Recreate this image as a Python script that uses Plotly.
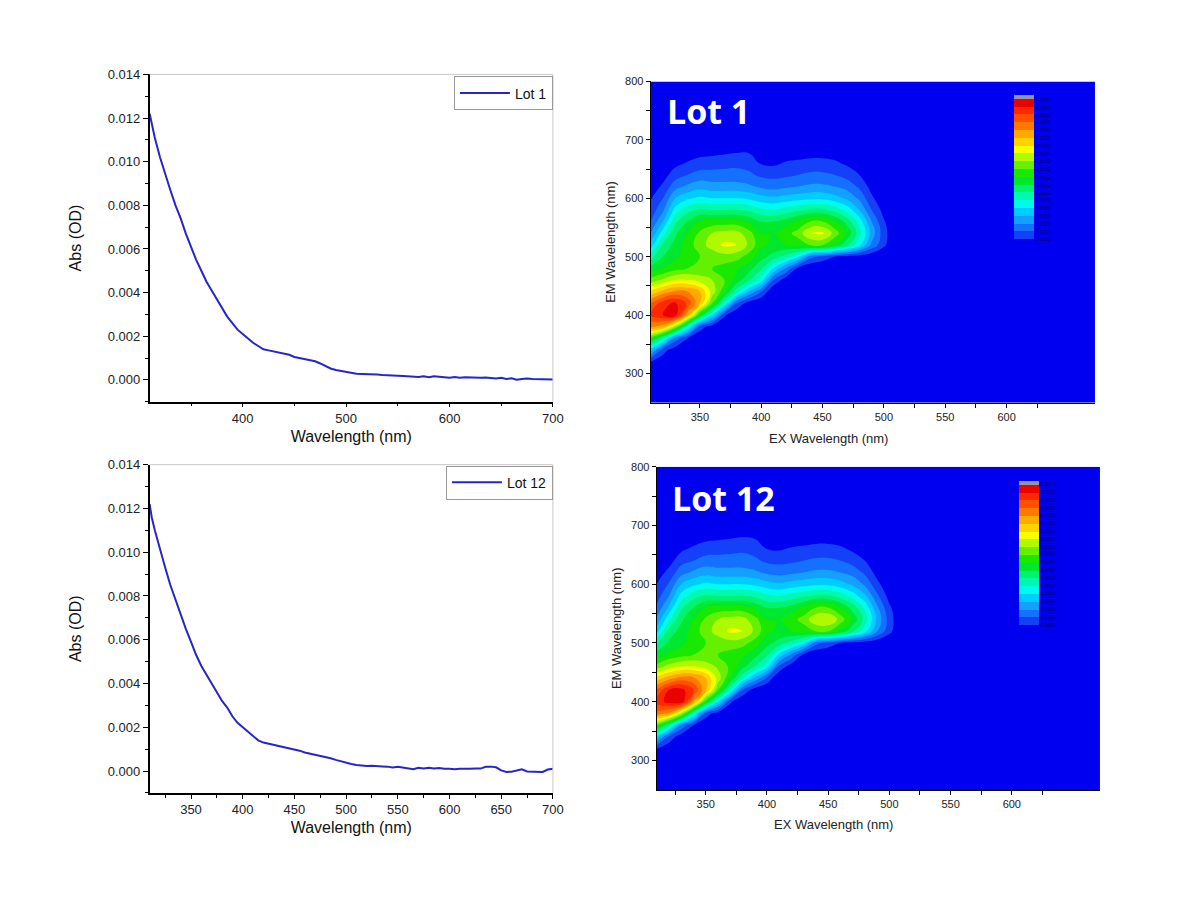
import numpy as np
import plotly.graph_objects as go

# ---------------- absorbance spectra ----------------
wl_lot1 = [310, 312, 315, 320, 325, 330, 335, 340, 345, 350, 355, 360, 365, 370, 375, 380, 385, 390, 395, 400,
           405, 410, 415, 420, 425, 430, 435, 440, 445, 450, 455, 460, 465, 470, 475, 480, 485, 490, 495, 500,
           505, 510, 515, 520, 525, 530, 535, 540, 545, 550, 555, 560, 565, 570, 575, 580, 585, 590, 595, 600,
           605, 610, 615, 620, 625, 630, 635, 640, 645, 650, 655, 660, 665, 670, 675, 680, 685, 690, 695, 700]
abs_lot1 = [0.0122, 0.0117, 0.0111, 0.0102, 0.0094, 0.0087, 0.0080, 0.0074, 0.0067, 0.0061, 0.0055, 0.0050,
            0.0045, 0.0041, 0.0037, 0.0033, 0.0029, 0.0026, 0.0023, 0.0021, 0.0019, 0.0017, 0.00155, 0.0014,
            0.00135, 0.0013, 0.00127, 0.0012, 0.00115, 0.00105, 0.0010, 0.00092, 0.0009, 0.00085, 0.00075,
            0.00062, 0.00052, 0.00045, 0.0004, 0.00035, 0.0003, 0.00028, 0.00027, 0.00027, 0.00025, 0.00024,
            0.00022, 0.00022, 0.0002, 0.00019, 0.00018, 0.00016, 0.00016, 0.00013, 0.00016, 0.00012, 0.00016,
            0.00014, 0.00009, 0.0001, 0.00013, 0.0001, 0.00012, 0.0001, 0.00011, 0.00009, 0.00011, 0.00007,
            0.00006, 0.00009, 0.00004, 0.00007, 0.0, 0.00004, 0.00006, 0.00004, 0.00003, 0.00004, 0.00002, 0.00002]

wl_lot12 = wl_lot1
abs_lot12 = [0.0122, 0.0116, 0.0110, 0.0101, 0.0093, 0.0085, 0.0078, 0.0071, 0.0065, 0.0059, 0.0053, 0.0048,
             0.0044, 0.0040, 0.0036, 0.0032, 0.0029, 0.0025, 0.0022, 0.0020, 0.0018, 0.0016, 0.0014, 0.0013,
             0.00125, 0.00118, 0.00112, 0.00108, 0.00102, 0.00098, 0.00093, 0.00085, 0.0008, 0.00074, 0.0007,
             0.00064, 0.00058, 0.00051, 0.00044, 0.00038, 0.00032, 0.00027, 0.00024, 0.00023, 0.00024, 0.00024,
             0.00021, 0.0002, 0.00016, 0.00019, 0.00015, 0.00013, 0.00008, 0.00015, 0.00011, 0.00015, 0.00012,
             0.00014, 0.0001, 0.0001, 0.00008, 0.0001, 0.00009, 0.0001, 0.00012, 0.00011, 0.00019, 0.0002,
             0.00017, 0.00003, -0.00004, -0.00003, 0.00002, 0.00008, -0.00002, -0.00003, -0.00004, -0.00004,
             0.00007, 0.0001]

# ---------------- EEM maps (normalised intensity) ----------------
ex_grid = [310, 320, 330, 340, 350, 360, 370, 380, 390, 400, 410, 420, 430, 440, 450, 460, 470, 480, 490,
           500, 510, 520, 680]
em_grid = [250, 300, 320, 340, 360, 380, 400, 420, 440, 460, 480, 500, 520, 540, 560, 580, 600, 620, 640,
           660, 680, 700, 800]

# one list per EX column, values along em_grid
eem_lot1_cols = [
    [0, 0, 0.05, 0.22, 0.48, 0.76, 0.85, 0.80, 0.66, 0.52, 0.42, 0.33, 0.22, 0.15, 0.10, 0.07, 0.045, 0.02, 0, 0, 0, 0, 0],
    [0, 0, 0.02, 0.07, 0.32, 0.72, 0.90, 0.88, 0.72, 0.56, 0.45, 0.40, 0.36, 0.28, 0.20, 0.14, 0.10, 0.06, 0.03, 0, 0, 0, 0],
    [0, 0, 0, 0.02, 0.13, 0.55, 0.93, 0.91, 0.76, 0.60, 0.48, 0.44, 0.42, 0.39, 0.34, 0.27, 0.20, 0.13, 0.075, 0.035, 0, 0, 0],
    [0, 0, 0, 0, 0.05, 0.30, 0.72, 0.84, 0.75, 0.60, 0.50, 0.47, 0.47, 0.45, 0.40, 0.33, 0.24, 0.16, 0.10, 0.055, 0.015, 0, 0],
    [0, 0, 0, 0, 0, 0.08, 0.45, 0.70, 0.70, 0.58, 0.50, 0.50, 0.53, 0.51, 0.45, 0.36, 0.26, 0.18, 0.12, 0.07, 0.03, 0, 0],
    [0, 0, 0, 0, 0, 0.02, 0.25, 0.50, 0.58, 0.55, 0.50, 0.52, 0.57, 0.55, 0.47, 0.35, 0.25, 0.17, 0.12, 0.075, 0.035, 0, 0],
    [0, 0, 0, 0, 0, 0, 0.06, 0.30, 0.46, 0.50, 0.48, 0.53, 0.61, 0.57, 0.47, 0.35, 0.25, 0.17, 0.12, 0.08, 0.04, 0, 0],
    [0, 0, 0, 0, 0, 0, 0, 0.10, 0.32, 0.43, 0.46, 0.52, 0.60, 0.57, 0.47, 0.35, 0.25, 0.17, 0.12, 0.085, 0.045, 0.005, 0],
    [0, 0, 0, 0, 0, 0, 0, 0.02, 0.20, 0.36, 0.42, 0.48, 0.54, 0.52, 0.44, 0.34, 0.24, 0.16, 0.11, 0.08, 0.045, 0.005, 0],
    [0, 0, 0, 0, 0, 0, 0, 0, 0.10, 0.28, 0.36, 0.42, 0.46, 0.45, 0.40, 0.31, 0.22, 0.14, 0.09, 0.045, 0.01, 0, 0],
    [0, 0, 0, 0, 0, 0, 0, 0, 0, 0.10, 0.25, 0.38, 0.44, 0.45, 0.40, 0.30, 0.21, 0.13, 0.085, 0.04, 0.01, 0, 0],
    [0, 0, 0, 0, 0, 0, 0, 0, 0, 0.02, 0.15, 0.33, 0.45, 0.48, 0.42, 0.32, 0.22, 0.14, 0.09, 0.055, 0.02, 0, 0],
    [0, 0, 0, 0, 0, 0, 0, 0, 0, 0, 0.04, 0.26, 0.47, 0.52, 0.46, 0.34, 0.23, 0.15, 0.10, 0.06, 0.025, 0, 0],
    [0, 0, 0, 0, 0, 0, 0, 0, 0, 0, 0, 0.12, 0.50, 0.60, 0.50, 0.36, 0.24, 0.16, 0.11, 0.065, 0.03, 0, 0],
    [0, 0, 0, 0, 0, 0, 0, 0, 0, 0, 0, 0.08, 0.50, 0.61, 0.50, 0.36, 0.24, 0.16, 0.11, 0.065, 0.03, 0, 0],
    [0, 0, 0, 0, 0, 0, 0, 0, 0, 0, 0, 0.05, 0.44, 0.53, 0.45, 0.33, 0.22, 0.15, 0.10, 0.06, 0.02, 0, 0],
    [0, 0, 0, 0, 0, 0, 0, 0, 0, 0, 0, 0.03, 0.36, 0.44, 0.38, 0.28, 0.19, 0.13, 0.08, 0.04, 0, 0, 0],
    [0, 0, 0, 0, 0, 0, 0, 0, 0, 0, 0, 0.02, 0.26, 0.32, 0.28, 0.20, 0.14, 0.09, 0.05, 0.02, 0, 0, 0],
    [0, 0, 0, 0, 0, 0, 0, 0, 0, 0, 0, 0.01, 0.14, 0.18, 0.15, 0.10, 0.06, 0.03, 0.01, 0, 0, 0, 0],
    [0, 0, 0, 0, 0, 0, 0, 0, 0, 0, 0, 0, 0.06, 0.07, 0.055, 0.03, 0.01, 0, 0, 0, 0, 0, 0],
    [0] * 23,
    [0] * 23,
    [0] * 23,
]

eem_lot12_cols = [
    [0, 0, 0.05, 0.23, 0.50, 0.78, 0.87, 0.81, 0.67, 0.52, 0.42, 0.34, 0.23, 0.16, 0.11, 0.075, 0.05, 0.025, 0, 0, 0, 0, 0],
    [0, 0, 0.02, 0.08, 0.34, 0.74, 0.92, 0.90, 0.73, 0.57, 0.46, 0.41, 0.37, 0.29, 0.21, 0.15, 0.105, 0.065, 0.03, 0, 0, 0, 0],
    [0, 0, 0, 0.02, 0.14, 0.57, 0.94, 0.92, 0.77, 0.60, 0.48, 0.44, 0.42, 0.39, 0.34, 0.27, 0.20, 0.13, 0.08, 0.04, 0, 0, 0],
    [0, 0, 0, 0, 0.05, 0.31, 0.74, 0.85, 0.76, 0.60, 0.50, 0.47, 0.47, 0.45, 0.40, 0.33, 0.24, 0.16, 0.10, 0.06, 0.02, 0, 0],
    [0, 0, 0, 0, 0, 0.08, 0.46, 0.71, 0.70, 0.58, 0.50, 0.50, 0.53, 0.51, 0.45, 0.36, 0.26, 0.18, 0.12, 0.075, 0.035, 0, 0],
    [0, 0, 0, 0, 0, 0.02, 0.25, 0.50, 0.58, 0.54, 0.50, 0.52, 0.57, 0.55, 0.47, 0.35, 0.25, 0.17, 0.12, 0.08, 0.04, 0, 0],
    [0, 0, 0, 0, 0, 0, 0.06, 0.30, 0.45, 0.49, 0.48, 0.53, 0.61, 0.57, 0.47, 0.35, 0.25, 0.17, 0.12, 0.085, 0.045, 0, 0],
    [0, 0, 0, 0, 0, 0, 0, 0.10, 0.31, 0.42, 0.46, 0.52, 0.60, 0.57, 0.47, 0.35, 0.25, 0.17, 0.12, 0.09, 0.05, 0.005, 0],
    [0, 0, 0, 0, 0, 0, 0, 0.02, 0.19, 0.35, 0.42, 0.48, 0.54, 0.52, 0.44, 0.34, 0.24, 0.16, 0.11, 0.08, 0.045, 0.005, 0],
    [0, 0, 0, 0, 0, 0, 0, 0, 0.09, 0.27, 0.36, 0.42, 0.46, 0.45, 0.40, 0.31, 0.22, 0.14, 0.09, 0.05, 0.015, 0, 0],
    [0, 0, 0, 0, 0, 0, 0, 0, 0, 0.09, 0.24, 0.38, 0.44, 0.45, 0.40, 0.30, 0.21, 0.13, 0.085, 0.045, 0.01, 0, 0],
    [0, 0, 0, 0, 0, 0, 0, 0, 0, 0.02, 0.14, 0.33, 0.45, 0.48, 0.42, 0.32, 0.22, 0.14, 0.09, 0.055, 0.02, 0, 0],
    [0, 0, 0, 0, 0, 0, 0, 0, 0, 0, 0.04, 0.26, 0.47, 0.52, 0.46, 0.34, 0.23, 0.15, 0.10, 0.06, 0.025, 0, 0],
    [0, 0, 0, 0, 0, 0, 0, 0, 0, 0, 0, 0.12, 0.50, 0.59, 0.50, 0.36, 0.24, 0.16, 0.11, 0.065, 0.03, 0, 0],
    [0, 0, 0, 0, 0, 0, 0, 0, 0, 0, 0, 0.08, 0.50, 0.60, 0.50, 0.36, 0.24, 0.16, 0.11, 0.065, 0.03, 0, 0],
    [0, 0, 0, 0, 0, 0, 0, 0, 0, 0, 0, 0.05, 0.44, 0.53, 0.45, 0.33, 0.22, 0.15, 0.10, 0.06, 0.02, 0, 0],
    [0, 0, 0, 0, 0, 0, 0, 0, 0, 0, 0, 0.03, 0.36, 0.44, 0.38, 0.28, 0.19, 0.13, 0.08, 0.04, 0, 0, 0],
    [0, 0, 0, 0, 0, 0, 0, 0, 0, 0, 0, 0.02, 0.27, 0.33, 0.29, 0.21, 0.14, 0.09, 0.05, 0.02, 0, 0, 0],
    [0, 0, 0, 0, 0, 0, 0, 0, 0, 0, 0, 0.01, 0.15, 0.19, 0.16, 0.11, 0.065, 0.03, 0.01, 0, 0, 0, 0],
    [0, 0, 0, 0, 0, 0, 0, 0, 0, 0, 0, 0, 0.065, 0.075, 0.06, 0.03, 0.01, 0, 0, 0, 0, 0, 0],
    [0] * 23,
    [0] * 23,
    [0] * 23,
]

abs_ticks = [0.000, 0.002, 0.004, 0.006, 0.008, 0.010, 0.012, 0.014]
level_start, level_end, level_size = 0.05, 0.95, 0.05

# ---------------- styles ----------------
FONT = "Liberation Sans, Arial, sans-serif"
LINE_BLUE = "rgb(38,38,200)"
BAND_COLORS = [
    "rgb(0,0,240)", "rgb(20,65,248)", "rgb(20,112,255)", "rgb(20,160,255)", "rgb(0,205,255)",
    "rgb(0,250,235)", "rgb(0,248,175)", "rgb(0,242,110)", "rgb(0,232,45)", "rgb(25,232,0)",
    "rgb(100,240,0)", "rgb(175,250,0)", "rgb(245,255,0)", "rgb(255,210,0)", "rgb(255,170,0)",
    "rgb(255,120,0)", "rgb(255,80,0)", "rgb(255,40,0)", "rgb(235,0,0)", "rgb(150,150,150)",
]
nb = len(BAND_COLORS) - 1
colorscale = [[i / nb, c] for i, c in enumerate(BAND_COLORS)]

# page-pixel -> paper helpers (calibrated to the rendered page)
SX, OX, SY, OY = 0.9926, 7.1, 0.9916, 15.6


def fx(p):
    return (p - OX) / SX / 1200


def fy(p):
    return 1 - (p - OY) / SY / 900


fig = go.Figure()

fig.add_trace(go.Scatter(x=wl_lot1, y=abs_lot1, mode="lines", name="Lot 1", showlegend=True,
                         line=dict(color=LINE_BLUE, width=2), xaxis="x", yaxis="y", legend="legend"))
fig.add_trace(go.Scatter(x=wl_lot12, y=abs_lot12, mode="lines", name="Lot 12", showlegend=True,
                         line=dict(color=LINE_BLUE, width=2), xaxis="x2", yaxis="y2", legend="legend2"))

cb_ticks = [round(level_start + i * level_size, 2) for i in range(19)]


def contour(cols, xa, ya, cbx, cby):
    z = np.array(cols, dtype=float).T
    return go.Contour(
        x=ex_grid, y=em_grid, z=z, xaxis=xa, yaxis=ya, showlegend=False,
        colorscale=colorscale,
        contours=dict(start=level_start, end=level_end, size=level_size, coloring="fill", showlines=False),
        line=dict(width=0, smoothing=1.3),
        colorbar=dict(x=cbx, y=cby, xanchor="left", yanchor="top", lenmode="pixels", len=148,
                      thickness=20, outlinewidth=0, tickvals=cb_ticks,
                      ticktext=[f"{v:.4f}" for v in cb_ticks],
                      tickfont=dict(size=5, color="#000060", family=FONT), ticks="", xpad=0, ypad=0),
    )


fig.add_trace(contour(eem_lot1_cols, "x3", "y3", fx(1015), fy(96)))
fig.add_trace(contour(eem_lot12_cols, "x4", "y4", fx(1020), fy(481)))

tick_font = dict(family=FONT, size=13, color="#222")
title_font = dict(family=FONT, size=16, color="#111")


def line_axes(dom_x, dom_y, anchor_x, anchor_y, xdtick, xtick0, xminor):
    xa = dict(domain=dom_x, anchor=anchor_y, range=[310, 700], showline=True, linecolor="black", linewidth=1.5,
              mirror=False, ticks="outside", ticklen=4, tickwidth=1, tickcolor="black", dtick=xdtick, tick0=xtick0,
              minor=dict(ticks="outside", ticklen=3, dtick=xminor, tick0=xtick0, tickcolor="black"),
              showgrid=False, zeroline=False, tickfont=tick_font,
              title=dict(text="Wavelength (nm)", font=title_font, standoff=6))
    ya = dict(domain=dom_y, anchor=anchor_x, range=[-0.001, 0.014], showline=True, linecolor="black", linewidth=1.5,
              ticks="outside", ticklen=5, tickwidth=1, tickcolor="black", tickvals=abs_ticks, tickformat=".3f",
              minor=dict(ticks="outside", ticklen=3, dtick=0.001, tick0=0, tickcolor="black"),
              showgrid=False, zeroline=False, tickfont=tick_font,
              title=dict(text="Abs (OD)", font=title_font, standoff=22))
    return xa, ya


xa1, ya1 = line_axes([fx(149), fx(553)], [fy(402), fy(75)], "x", "y", 100, 400, 50)
xa2, ya2 = line_axes([fx(149), fx(553)], [fy(793), fy(465)], "x2", "y2", 50, 350, 25)

em_font = dict(family=FONT, size=11, color="#222")
em_title = dict(family=FONT, size=13, color="#222")


def eem_axes(dom_x, dom_y, anchor_x, anchor_y):
    xa = dict(domain=dom_x, anchor=anchor_y, range=[310, 672], showline=True, linecolor="black", linewidth=1.2,
              ticks="outside", ticklen=4, tickcolor="black", tickvals=[350, 400, 450, 500, 550, 600],
              minor=dict(ticks="outside", ticklen=4, tickvals=[325, 375, 425, 475, 525, 575, 625], tickcolor="black"),
              showgrid=False, zeroline=False, tickfont=em_font)
    ya = dict(domain=dom_y, anchor=anchor_x, range=[250, 800], showline=True, linecolor="black", linewidth=1.2,
              ticks="outside", ticklen=4, tickcolor="black", tickvals=[300, 400, 500, 600, 700, 800],
              minor=dict(ticks="outside", ticklen=4, tickvals=[350, 450, 550, 650, 750], tickcolor="black"),
              showgrid=False, zeroline=False, tickfont=em_font,
              title=dict(text="EM Wavelength (nm)", font=em_title, standoff=6))
    return xa, ya


xa3, ya3 = eem_axes([fx(651), fx(1096)], [fy(403), fy(82)], "x3", "y3")
xa4, ya4 = eem_axes([fx(657), fx(1101)], [fy(790), fy(467)], "x4", "y4")

legend_style = dict(font=dict(family=FONT, size=14, color="#111"), bgcolor="white", bordercolor="#999",
                    borderwidth=1, xanchor="right", yanchor="top", itemwidth=50, tracegroupgap=0)

shapes = []
for (x0, x1, y0, y1) in [(149, 553, 75, 402), (149, 553, 465, 793)]:
    shapes.append(dict(type="line", xref="paper", yref="paper", x0=fx(x0), x1=fx(x1), y0=fy(y0),
                       y1=fy(y0), line=dict(color="#c8c8c8", width=1)))
    shapes.append(dict(type="line", xref="paper", yref="paper", x0=fx(x1), x1=fx(x1), y0=fy(y0),
                       y1=fy(y1), line=dict(color="#c8c8c8", width=1)))

ann_title = dict(family="Open Sans", size=34, color="white")
fig.update_layout(
    width=1200, height=900, margin=dict(l=0, r=0, t=0, b=0), paper_bgcolor="white", plot_bgcolor="white",
    showlegend=True,
    xaxis=xa1, yaxis=ya1, xaxis2=xa2, yaxis2=ya2, xaxis3=xa3, yaxis3=ya3, xaxis4=xa4, yaxis4=ya4,
    legend=dict(x=fx(553), y=fy(77), **legend_style),
    legend2=dict(x=fx(553), y=fy(466), **legend_style),
    shapes=shapes,
    annotations=[
        dict(text="<b>Lot 1</b>", xref="paper", yref="paper", x=fx(665), y=fy(112), xanchor="left",
             yanchor="middle", showarrow=False, font=ann_title),
        dict(text="<b>Lot 12</b>", xref="paper", yref="paper", x=fx(670), y=fy(498), xanchor="left",
             yanchor="middle", showarrow=False, font=ann_title),
        dict(text="EX Wavelength (nm)", xref="paper", yref="paper", x=fx(829), y=fy(439), xanchor="center",
             yanchor="middle", showarrow=False, font=em_title),
        dict(text="EX Wavelength (nm)", xref="paper", yref="paper", x=fx(834), y=fy(825), xanchor="center",
             yanchor="middle", showarrow=False, font=em_title),
    ],
    font=dict(family=FONT),
)

fig.write_html("out.html")
